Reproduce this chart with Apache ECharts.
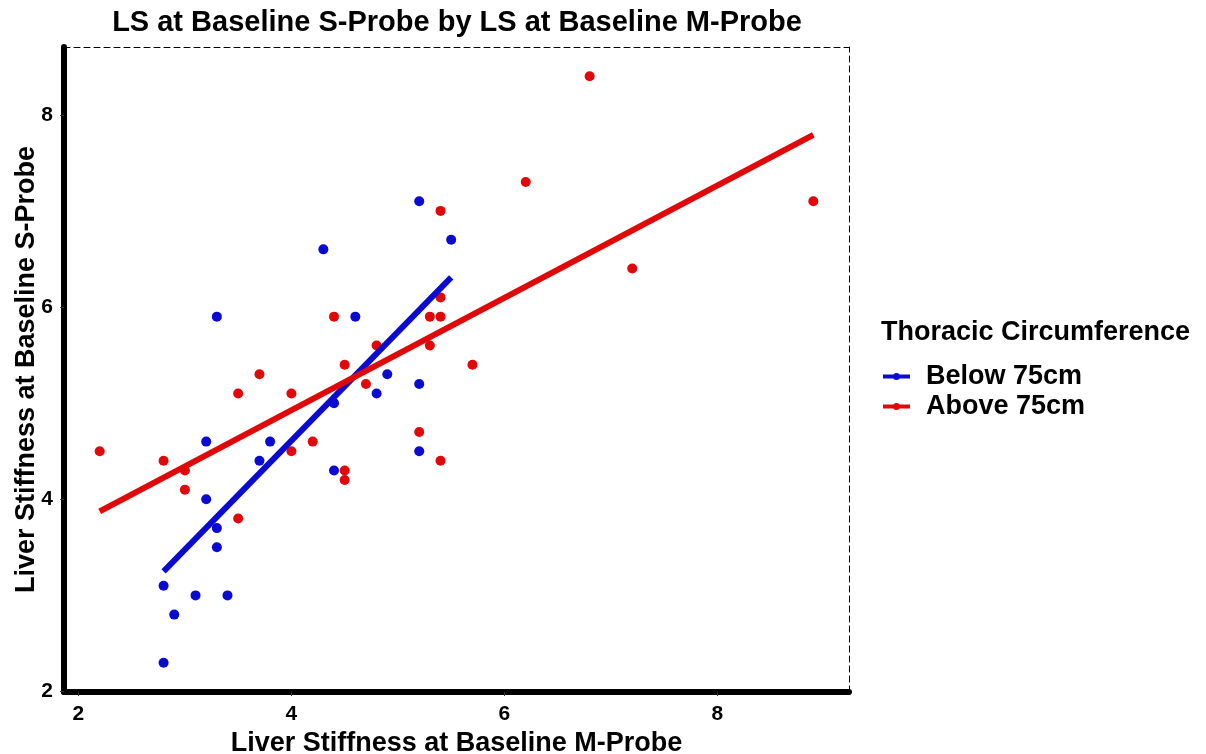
<!DOCTYPE html>
<html>
<head>
<meta charset="utf-8">
<title>LS at Baseline S-Probe by LS at Baseline M-Probe</title>
<script src="https://cdn.jsdelivr.net/npm/echarts@6/dist/echarts.min.js"></script>
<style>
    html, body { margin: 0; padding: 0; background: #fff; }
    #chart { width: 1206px; height: 754px; }
</style>
</head>
<body>
<div id="chart"></div>
<script>
// values
var belowX = [2.8, 2.8, 2.9, 3.1, 3.4, 3.2, 3.3, 3.3, 3.2, 3.8, 3.7, 4.3, 3.3, 4.6, 4.9, 4.4, 4.8, 5.2, 5.2, 4.4, 5.2, 5.5];
var belowY = [2.3, 3.1, 2.8, 3.0, 3.0, 4.0, 3.7, 3.5, 4.6, 4.6, 4.4, 6.6, 5.9, 5.9, 5.3, 5.0, 5.1, 5.2, 4.5, 4.3, 7.1, 6.7];
var aboveX = [2.2, 2.8, 3.0, 3.0, 3.5, 3.7, 4.0, 3.5, 4.0, 4.2, 4.5, 4.5, 4.4, 4.5, 4.8, 4.7, 5.3, 5.4, 5.3, 5.4, 5.4, 5.2, 5.4, 5.7, 6.2, 6.8, 7.2, 8.9];
var aboveY = [4.5, 4.4, 4.3, 4.1, 5.1, 5.3, 5.1, 3.8, 4.5, 4.6, 4.3, 4.2, 5.9, 5.4, 5.6, 5.2, 5.9, 5.9, 5.6, 6.1, 7.0, 4.7, 4.4, 5.4, 7.3, 8.4, 6.4, 7.1];
var xTicks = [2, 4, 6, 8];
var yTicks = [2, 4, 6, 8];
var groups = ['Below 75cm', 'Above 75cm'];
var colors = ['#0a0ad2', '#e00808'];

var font = 'Liberation Sans, Arial, sans-serif';

function pairs(xs, ys) {
    return xs.map(function (x, i) { return [x, ys[i]]; });
}

// least squares line over the x range of the group (like geom_smooth(method = lm))
function fitLine(xs, ys) {
    var n = xs.length, mx = 0, my = 0;
    for (var i = 0; i < n; i++) { mx += xs[i]; my += ys[i]; }
    mx /= n; my /= n;
    var sxx = 0, sxy = 0;
    for (var j = 0; j < n; j++) {
        sxx += (xs[j] - mx) * (xs[j] - mx);
        sxy += (xs[j] - mx) * (ys[j] - my);
    }
    var b = sxy / sxx, a = my - b * mx;
    var lo = Math.min.apply(null, xs), hi = Math.max.apply(null, xs);
    return [[lo, a + b * lo], [hi, a + b * hi]];
}

// ggplot default 5% expansion of the data range
function padded(vals) {
    var lo = Math.min.apply(null, vals), hi = Math.max.apply(null, vals);
    var d = (hi - lo) * 0.05;
    return [lo - d, hi + d];
}

var xr = padded(belowX.concat(aboveX));
var yr = padded(belowY.concat(aboveY));

// legend key: thick line with a point in the middle
var keyIcon = 'path://M0,3H27V7H0Z M10,5A3.5,3.5 0 1 1 17,5A3.5,3.5 0 1 1 10,5Z';

var chart = echarts.init(document.getElementById('chart'));
chart.setOption({
    animation: false,
    backgroundColor: '#fff',
    title: [{
        text: 'LS at Baseline S-Probe by LS at Baseline M-Probe',
        left: 457,
        top: 8,
        textAlign: 'center',
        padding: 0,
        textStyle: { fontFamily: font, fontWeight: 'bold', fontSize: 29, color: '#000' }
    }, {
        text: 'Thoracic Circumference',
        left: 881,
        top: 319,
        padding: 0,
        textStyle: { fontFamily: font, fontWeight: 'bold', fontSize: 27, color: '#000' }
    }],
    legend: {
        data: groups,
        orient: 'vertical',
        left: 883,
        top: 363,
        padding: 0,
        itemGap: 3,
        itemWidth: 27,
        itemHeight: 7,
        icon: keyIcon,
        selectedMode: false,
        textStyle: { fontFamily: font, fontWeight: 'bold', fontSize: 27, color: '#000', padding: [0, 0, 0, 11] }
    },
    grid: { left: 64, right: 357, top: 47, bottom: 62, outerBoundsMode: 'none' },
    xAxis: [{
        type: 'value',
        min: xr[0],
        max: xr[1],
        name: 'Liver Stiffness at Baseline M-Probe',
        nameLocation: 'middle',
        nameGap: 38,
        nameMoveOverlap: false,
        nameTextStyle: { fontFamily: font, fontWeight: 'bold', fontSize: 27, color: '#000' },
        axisLine: { show: true, onZero: false, lineStyle: { color: '#000', width: 6 } },
        axisTick: { show: true, length: 4, customValues: xTicks, lineStyle: { color: '#333', width: 1 } },
        axisLabel: { customValues: xTicks, margin: 12, fontFamily: font, fontWeight: 'bold', fontSize: 21, color: '#000' },
        splitLine: { show: false }
    }, {
        type: 'value',
        position: 'top',
        min: xr[0],
        max: xr[1],
        axisLine: { show: true, onZero: false, lineStyle: { color: '#000', width: 1, type: [6, 4] } },
        axisTick: { show: false },
        axisLabel: { show: false },
        splitLine: { show: false }
    }],
    yAxis: [{
        type: 'value',
        min: yr[0],
        max: yr[1],
        name: 'Liver Stiffness at Baseline S-Probe',
        nameLocation: 'middle',
        nameGap: 24,
        nameMoveOverlap: false,
        nameTextStyle: { fontFamily: font, fontWeight: 'bold', fontSize: 27, color: '#000' },
        axisLine: { show: true, onZero: false, lineStyle: { color: '#000', width: 6 } },
        axisTick: { show: true, length: 4, customValues: yTicks, lineStyle: { color: '#333', width: 1 } },
        axisLabel: { customValues: yTicks, margin: 11, fontFamily: font, fontWeight: 'bold', fontSize: 21, color: '#000' },
        splitLine: { show: false }
    }, {
        type: 'value',
        position: 'right',
        min: yr[0],
        max: yr[1],
        axisLine: { show: true, onZero: false, lineStyle: { color: '#000', width: 1, type: [6, 4] } },
        axisTick: { show: false },
        axisLabel: { show: false },
        splitLine: { show: false }
    }],
    series: [{
        name: groups[0],
        type: 'scatter',
        data: pairs(belowX, belowY),
        symbolSize: 10,
        itemStyle: { color: colors[0], opacity: 1 },
        z: 2
    }, {
        name: groups[1],
        type: 'scatter',
        data: pairs(aboveX, aboveY),
        symbolSize: 10,
        itemStyle: { color: colors[1], opacity: 1 },
        z: 2
    }, {
        name: 'fit-below',
        type: 'line',
        data: fitLine(belowX, belowY),
        showSymbol: false,
        silent: true,
        lineStyle: { color: colors[0], width: 6 },
        z: 3
    }, {
        name: 'fit-above',
        type: 'line',
        data: fitLine(aboveX, aboveY),
        showSymbol: false,
        silent: true,
        lineStyle: { color: colors[1], width: 6 },
        z: 4
    }]
});
</script>
</body>
</html>
